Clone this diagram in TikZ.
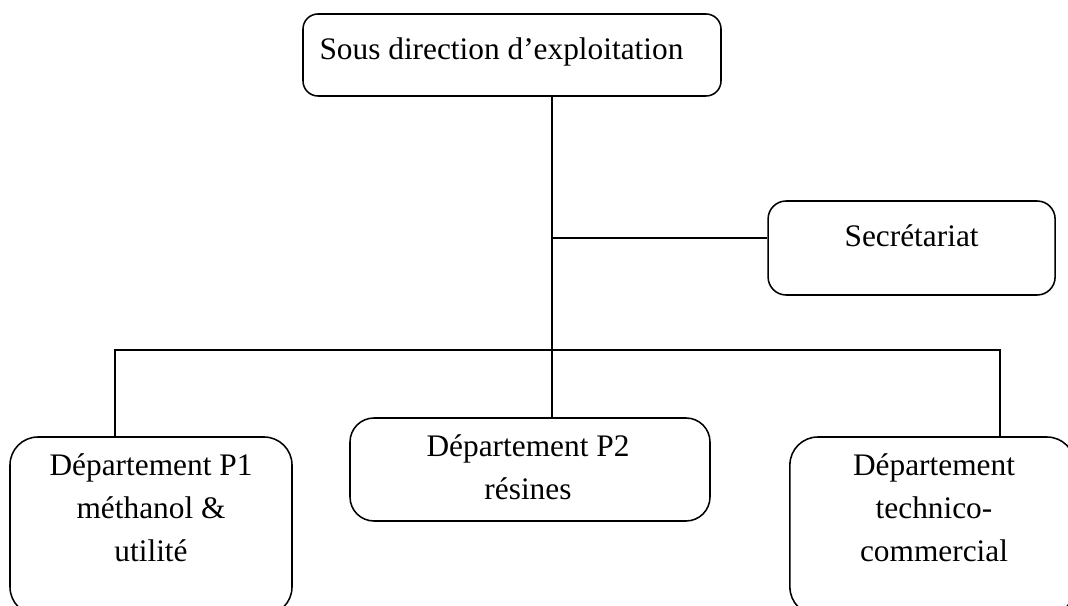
\documentclass[tikz,border=0pt]{standalone}
\usepackage{fontspec}
\setmainfont{Liberation Serif}
\usetikzlibrary{calc,positioning}

\begin{document}
\begin{tikzpicture}[
  unit/.style={draw,line width=1.1pt,rounded corners=#1,inner sep=0pt},
  unit/.default=0.7cm,
  lbl/.style={align=center,anchor=base,inner sep=0pt,font=\fontsize{22.3}{30.5}\selectfont},
  wire/.style={line width=1.1pt}
]
\useasboundingbox (0,0) rectangle (26.7,15.125);
\clip (0,0) rectangle (26.7,15.125);

% boxes
\node[unit=0.375cm,minimum width=10.45cm,minimum height=2.05cm] (dir) at (12.8,13.75) {};
\node[unit=0.45cm,minimum width=7.175cm,minimum height=2.35cm] (sec) at (22.79,8.925) {};
\node[unit,minimum width=7.05cm,minimum height=4.45cm] (p1) at (3.775,1.975) {};
\node[unit=0.6cm,minimum width=9cm,minimum height=2.575cm] (p2) at (13.25,3.3875) {};
\node[unit,minimum width=7.125cm,minimum height=4.45cm] (p3) at (23.31,1.975) {};

% texts (base = last line)
\node[lbl,anchor=base west] (dirtxt) at ($(dir.north west)+(0.425,-1.15)$) {Sous direction d’exploitation};
\node[lbl] (sectxt) at ($(sec.north)+(0,-1.15)$) {Secrétariat};
\node[lbl] (p1txt) at ($(p1.north)+(0,-3.125)$) {Département P1\\méthanol \&\\utilité};
\node[lbl] (p2txt) at ($(p2.north)+(-0.05,-2.05)$) {Département P2\\résines};
\node[lbl] (p3txt) at ($(p3.north)+(0.04,-3.125)$) {Département\\technico-\\commercial};

% connectors
\coordinate (bus) at (13.8,6.375);
\coordinate (l) at (2.875,6.375);
\coordinate (r) at (25.0,6.375);
\coordinate (secin) at ($(sec.west)+(0,0.25)$);
\draw[wire] (bus |- dir.south) -- (bus |- p2.north);
\draw[wire] (bus |- secin) -- (secin);
\draw[wire] (l |- p1.north) -- (l) -- (r) -- (r |- p3.north);
\end{tikzpicture}
\end{document}
